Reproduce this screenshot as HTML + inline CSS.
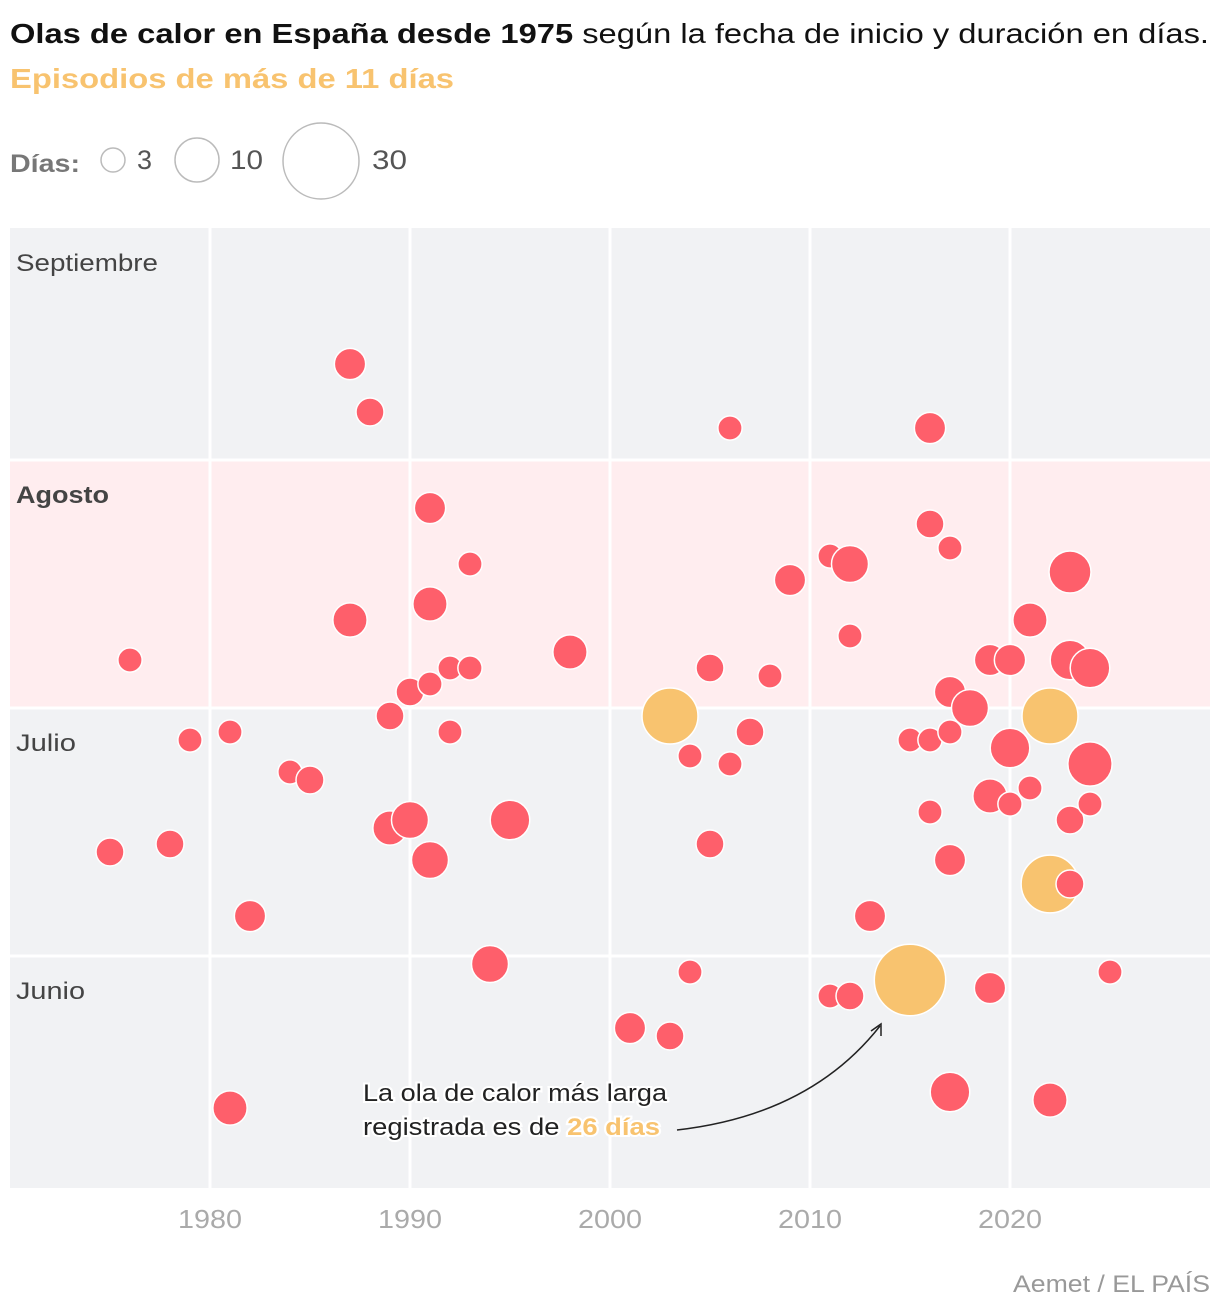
<!DOCTYPE html>
<html><head><meta charset="utf-8">
<style>
html,body{margin:0;padding:0;background:#fff;width:1220px;height:1314px;overflow:hidden;font-family:"Liberation Sans",sans-serif;}
svg{display:block}
</style></head>
<body>
<svg id="chart" width="1220" height="1314">
  <text x="10" y="43" font-size="28" fill="#111" textLength="1199" lengthAdjust="spacingAndGlyphs"><tspan font-weight="bold">Olas de calor en España desde 1975</tspan> según la fecha de inicio y duración en días.</text>
  <text x="10" y="88" font-size="28" font-weight="bold" fill="#f8c36f" textLength="444" lengthAdjust="spacingAndGlyphs">Episodios de más de 11 días</text>
  <g>
    <text x="10" y="172" font-size="25" font-weight="bold" fill="#777" textLength="70" lengthAdjust="spacingAndGlyphs">Días:</text>
    <circle cx="113" cy="160" r="12" fill="none" stroke="#bbb" stroke-width="1.5"/>
    <text x="137" y="169" font-size="27" fill="#555">3</text>
    <circle cx="197" cy="160" r="22" fill="none" stroke="#bbb" stroke-width="1.5"/>
    <text x="230" y="169" font-size="27" fill="#555" textLength="33" lengthAdjust="spacingAndGlyphs">10</text>
    <circle cx="321" cy="161" r="38" fill="none" stroke="#bbb" stroke-width="1.5"/>
    <text x="372" y="169" font-size="27" fill="#555" textLength="35" lengthAdjust="spacingAndGlyphs">30</text>
  </g>
  <g id="plot"></g>
  <text x="1013" y="1292" font-size="24" fill="#999" textLength="197" lengthAdjust="spacingAndGlyphs">Aemet / EL PAÍS</text>
</svg>
<script>
const years=[1987,1988,2006,2016,1991,1993,1987,1991,1976,1998,1990,1991,1992,1993,2005,2008,2009,2011,2012,2012,2016,2017,2023,2021,2019,2020,2023,2024,2017,2018,2003,2022,1989,1979,1981,1992,2007,2004,2006,2015,2016,2017,2020,2024,1984,1985,1990,1989,1995,1991,1975,1978,2005,2019,2020,2021,2024,2023,2016,2017,2022,2023,1982,2013,1994,2004,2025,2011,2012,2015,2019,2001,2003,2017,2022,1981];
const startDays=[104,98,96,96,86,79,72,74,67,68,63,64,66,66,66,65,77,80,79,70,84,81,78,72,67,67,67,66,63,61,60,60,60,57,58,58,58,55,54,57,57,58,56,54,53,52,47,46,47,42,43,44,44,50,49,51,49,47,48,42,39,39,35,35,29,28,28,25,25,27,26,21,20,13,12,11];
const durations=[5,4,3,5,5,3,6,6,3,6,4,3,3,3,4,3,5,3,7,3,4,3,9,6,5,5,8,8,5,7,16,16,4,3,3,3,4,3,3,3,3,3,8,10,3,4,7,6,8,7,4,4,4,6,3,3,3,4,3,5,17,4,5,5,7,3,3,3,4,26,5,5,4,8,6,6];
const xTicks=[1980,1990,2000,2010,2020];
const months=["Junio","Julio","Agosto","Septiembre"];
const monthStart=[0,30,61,92];
const NS="http://www.w3.org/2000/svg";
const plot=document.getElementById('plot');
const X0=10,X1=1210,Y0=228,Y1=1188;
const x=y=>210+(y-1980)*20;
const yS=d=>1196-d*8;
const rS=d=>7*Math.sqrt(d);
function mk(t,a){const e=document.createElementNS(NS,t);for(const k in a)e.setAttribute(k,a[k]);plot.appendChild(e);return e;}
let bg=mk('rect',{x:X0,y:Y0,width:X1-X0,height:Y1-Y0,fill:'#f1f2f4'});


let aug=mk('rect',{x:X0,y:yS(92),width:X1-X0,height:yS(61)-yS(92),fill:'#ffedef'});


xTicks.forEach(t=>{
  let l=mk('line',{x1:x(t),x2:x(t),y1:Y0,y2:Y1,stroke:'#fff','stroke-width':3});
  
  
  let tx=mk('text',{x:x(t),y:1228,'font-size':26,fill:'#aaa','text-anchor':'middle',textLength:64,lengthAdjust:'spacingAndGlyphs'});
  tx.textContent=t;
  
  
});
const monthW={"Junio":69,"Julio":60,"Agosto":93,"Septiembre":142};
months.forEach((m,i)=>{
  if(i>0){let l=mk('line',{x1:X0,x2:X1,y1:yS(monthStart[i]),y2:yS(monthStart[i]),stroke:'#fff','stroke-width':3});
  
  }
  const top=i<3?yS(monthStart[i+1]):Y0;
  let tx=mk('text',{x:16,y:top+43,'font-size':24,fill:'#444','font-weight':m==='Agosto'?'bold':'normal',textLength:monthW[m],lengthAdjust:'spacingAndGlyphs'});
  tx.textContent=m;
  
  
});
const idx=years.map((_,i)=>i).sort((a,b)=>years[a]-years[b]||durations[b]-durations[a]);
idx.forEach(i=>{
  let c=mk('circle',{cx:x(years[i]),cy:yS(startDays[i]),r:rS(durations[i]),fill:durations[i]>11?'#f8c36f':'#fe5f6b',stroke:'#fff','stroke-width':1.5});
  
  
});
let a1=mk('text',{x:363,y:1101,'font-size':24,fill:'#222',stroke:'#fff','stroke-width':4,'paint-order':'stroke',textLength:304,lengthAdjust:'spacingAndGlyphs'});
a1.textContent='La ola de calor más larga';


let a2=mk('text',{x:363,y:1135,'font-size':24,fill:'#222',stroke:'#fff','stroke-width':4,'paint-order':'stroke',textLength:297,lengthAdjust:'spacingAndGlyphs'});
a2.innerHTML='registrada es de <tspan font-weight="bold" fill="#f8c36f">26 días</tspan>';


let ar=mk('path',{d:'M677,1130 Q810,1115 880,1026',fill:'none',stroke:'#222','stroke-width':1.5});


let ah=mk('path',{d:'M871,1031 L881,1024 L881,1036',fill:'none',stroke:'#222','stroke-width':1.5});


</script>
</body></html>
